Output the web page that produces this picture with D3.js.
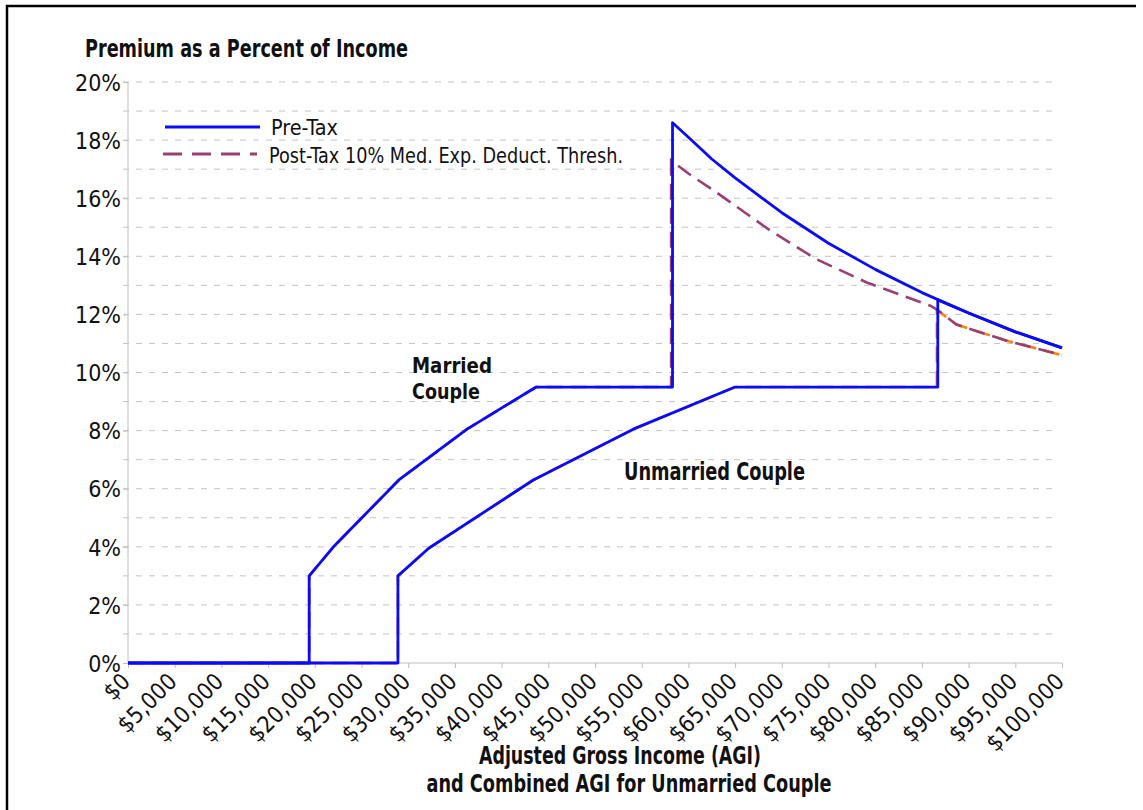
<!DOCTYPE html>
<html>
<head>
<meta charset="utf-8">
<script src="https://cdn.jsdelivr.net/npm/d3@7/dist/d3.min.js"></script>
<style>
  body { margin: 0; background: #fff; }
  svg text { font-family: "Liberation Sans Narrow", "DejaVu Sans Condensed", "Arial Narrow", sans-serif; fill: #111; }
</style>
</head>
<body>
<svg id="chart" width="1143" height="810"></svg>
<script>
// tick values / labels
const xTicks = [0, 5000, 10000, 15000, 20000, 25000, 30000, 35000, 40000, 45000, 50000,
                55000, 60000, 65000, 70000, 75000, 80000, 85000, 90000, 95000, 100000];
const yTicks = [0, 2, 4, 6, 8, 10, 12, 14, 16, 18, 20];
const gridLevels = [1, 2, 3, 4, 5, 6, 7, 8, 9, 10, 11, 12, 13, 14, 15, 16, 17, 18, 19, 20];

// married couple (AGI, premium % of income)
const marriedX   = [0, 19400, 19400, 22000, 29000, 36300, 43700, 58300, 58300, 60000, 62500, 65000, 70000, 75000, 80000, 85000, 90000, 95000, 100000];
const marriedPre = [0, 0, 3.0, 4.0, 6.3, 8.05, 9.5, 9.5, 18.6, 18.1, 17.35, 16.7, 15.5, 14.45, 13.55, 12.75, 12.05, 11.4, 10.85];

const marriedPostX = [0, 19400, 19400, 22000, 29000, 36300, 43700, 58150, 58150, 60000, 63000, 68700, 73700, 79100, 85900, 86700, 88700, 94000, 100000];
const marriedPost  = [0, 0, 3.0, 4.0, 6.3, 8.05, 9.5, 9.5, 17.3, 16.85, 16.2, 14.9, 13.9, 13.1, 12.3, 12.15, 11.65, 11.1, 10.6];

// unmarried couple (combined AGI)
const unmarriedX   = [0, 28900, 28900, 32200, 43400, 54100, 65000, 86700, 86700, 90000, 95000, 100000];
const unmarriedPre = [0, 0, 3.0, 3.95, 6.3, 8.05, 9.5, 9.5, 12.5, 12.05, 11.4, 10.85];

const unmarriedPostX = [0, 28900, 28900, 32200, 43400, 54100, 65000, 86600, 86600, 88700, 94000, 100000];
const unmarriedPost  = [0, 0, 3.0, 3.95, 6.3, 8.05, 9.5, 9.5, 12.15, 11.65, 11.1, 10.6];

const svg = d3.select("#chart");

const x = d3.scaleLinear().domain([0, 100000]).range([128, 1062]);
const y = d3.scaleLinear().domain([0, 20]).range([663, 82]);

// outer frame (left + top edges show in the picture)
svg.append("path")
  .attr("d", "M7,812 L7,6 L1136,6")
  .attr("fill", "none")
  .attr("stroke", "#000")
  .attr("stroke-width", 2.5);

// gridlines
svg.append("g").selectAll("line")
  .data(gridLevels)
  .enter().append("line")
  .attr("x1", 123).attr("x2", 1058)
  .attr("y1", d => y(d)).attr("y2", d => y(d))
  .attr("stroke", "#c4c4c4")
  .attr("stroke-dasharray", "6,7");

// y axis
const yAxis = d3.axisLeft(y).tickValues(yTicks).tickSize(5).tickFormat(d => d + "%");
const gy = svg.append("g").attr("transform", "translate(128,0)").call(yAxis);
gy.select(".domain").attr("stroke", "#bdbdbd").attr("d", `M0,${y(20)}V${y(0)}`);
gy.selectAll(".tick line").attr("stroke", "#bdbdbd");
gy.selectAll(".tick text")
  .attr("x", -7).attr("dy", "0.36em")
  .style("font-size", "23px")
  .attr("fill", "#111");

// x axis
const xAxis = d3.axisBottom(x).tickValues(xTicks).tickSize(5).tickFormat(d => "$" + d3.format(",")(d));
const gx = svg.append("g").attr("transform", "translate(0,663)").call(xAxis);
gx.select(".domain").attr("stroke", "#bdbdbd").attr("d", `M${x(0)},0H${x(100000)}`);
gx.selectAll(".tick line").attr("stroke", "#bdbdbd");
gx.selectAll(".tick text")
  .attr("y", 0).attr("dy", 0)
  .attr("transform", "translate(3,20) rotate(-45)")
  .attr("text-anchor", "end")
  .style("font-size", "23px")
  .attr("fill", "#111");
svg.selectAll(".tick text").attr("font-family", null);

const line = (xs, ys) => d3.line()
  .x((d, i) => x(xs[i]))
  .y(d => y(d))(ys);

// post-tax lines (underneath)
svg.append("path")
  .attr("d", line(unmarriedPostX, unmarriedPost))
  .attr("fill", "none").attr("stroke", "#ff7f0e").attr("stroke-width", 2.6)
  .attr("stroke-dasharray", "16,8").attr("stroke-dashoffset", 12);
svg.append("path")
  .attr("d", line(marriedPostX, marriedPost))
  .attr("fill", "none").attr("stroke", "#993f73").attr("stroke-width", 2.6)
  .attr("stroke-dasharray", "16,8");

// pre-tax lines
[[unmarriedX, unmarriedPre], [marriedX, marriedPre]].forEach(([xs, ys]) => {
  svg.append("path")
    .attr("d", line(xs, ys))
    .attr("fill", "none").attr("stroke", "#0a0aff").attr("stroke-width", 2.8)
    .attr("stroke-linejoin", "round");
});

// title
svg.append("text")
  .attr("x", 85).attr("y", 57)
  .attr("font-weight", "bold").style("font-size", "24px")
  .attr("textLength", 323).attr("lengthAdjust", "spacingAndGlyphs")
  .text("Premium as a Percent of Income");

// legend
svg.append("line").attr("x1", 165).attr("x2", 260).attr("y1", 127).attr("y2", 127)
  .attr("stroke", "#0a0aff").attr("stroke-width", 2.8);
svg.append("text").attr("x", 271).attr("y", 135).style("font-size", "22px")
  .attr("textLength", 67).attr("lengthAdjust", "spacingAndGlyphs")
  .text("Pre-Tax");
svg.append("line").attr("x1", 163).attr("x2", 257).attr("y1", 154).attr("y2", 154)
  .attr("stroke", "#993f73").attr("stroke-width", 2.8).attr("stroke-dasharray", "19,10");
svg.append("text").attr("x", 269).attr("y", 163).style("font-size", "22px")
  .attr("textLength", 354).attr("lengthAdjust", "spacingAndGlyphs")
  .text("Post-Tax 10% Med. Exp. Deduct. Thresh.");

// annotations
svg.append("text").attr("x", 412).attr("y", 373)
  .attr("font-weight", "bold").style("font-size", "21px")
  .attr("textLength", 80).attr("lengthAdjust", "spacingAndGlyphs").text("Married");
svg.append("text").attr("x", 412).attr("y", 399)
  .attr("font-weight", "bold").style("font-size", "21px")
  .attr("textLength", 68).attr("lengthAdjust", "spacingAndGlyphs").text("Couple");
svg.append("text").attr("x", 624).attr("y", 480)
  .attr("font-weight", "bold").style("font-size", "24px")
  .attr("textLength", 181).attr("lengthAdjust", "spacingAndGlyphs").text("Unmarried Couple");

// x axis title
svg.append("text").attr("x", 620).attr("y", 764).attr("text-anchor", "middle")
  .attr("font-weight", "bold").style("font-size", "24px")
  .attr("textLength", 282).attr("lengthAdjust", "spacingAndGlyphs")
  .text("Adjusted Gross Income (AGI)");
svg.append("text").attr("x", 629).attr("y", 792).attr("text-anchor", "middle")
  .attr("font-weight", "bold").style("font-size", "24px")
  .attr("textLength", 405).attr("lengthAdjust", "spacingAndGlyphs")
  .text("and Combined AGI for Unmarried Couple");
</script>
</body>
</html>
